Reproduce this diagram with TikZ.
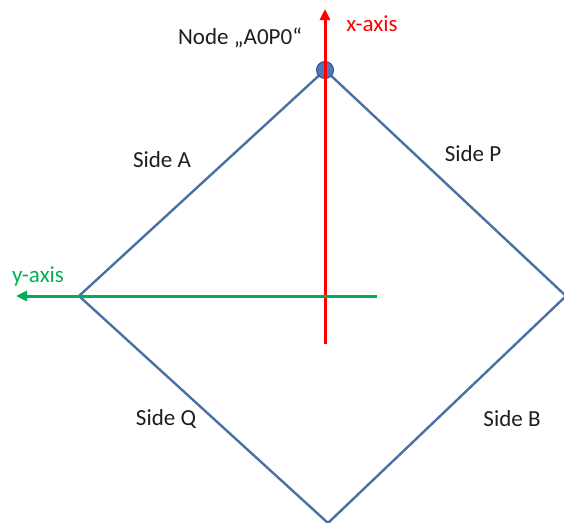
\documentclass[tikz,border=0pt]{standalone}
\usepackage{fontspec}
\setmainfont{Carlito}
\usetikzlibrary{arrows.meta}
\definecolor{sideblue}{RGB}{74,112,166}
\definecolor{nodefill}{RGB}{79,121,184}
\definecolor{nodeline}{RGB}{52,84,130}
\definecolor{axisred}{RGB}{255,0,0}
\definecolor{axisgreen}{RGB}{0,176,80}
\definecolor{labelgray}{RGB}{30,30,30}
\begin{document}
\begin{tikzpicture}[x=1pt,y=-1pt,
  side/.style={draw=sideblue,line width=2.4pt},
  axisx/.style={draw=axisred,line width=3pt,-{Triangle[length=11pt,width=10pt]}},
  axisy/.style={draw=axisgreen,line width=3pt,-{Triangle[length=11pt,width=10pt]}},
  lbl/.style={font=\fontsize{23}{27}\selectfont,text=labelgray,inner sep=0pt},
  vertex/.style={circle,fill=nodefill,draw=nodeline,line width=1pt,minimum size=17pt,inner sep=0pt}]
  \useasboundingbox (0,0) rectangle (564,522);
  % corners of the square
  \coordinate (top) at (325,70);
  \coordinate (left) at (79,296);
  \coordinate (right) at (566,296);
  \coordinate (bottom) at (328,523);
  \draw[side,line join=miter] (top) -- (right) -- (bottom) -- (left) -- cycle;
  % node A0P0 at the top corner
  \node[vertex] (a0p0) at (top) {};
  % axes
  \coordinate (ystart) at (377,296);
  \coordinate (yend) at (16,296);
  \coordinate (xstart) at (325,344);
  \coordinate (xend) at (325,9);
  \draw[axisx] (xstart) -- (xend);
  \draw[axisy] (ystart) -- (yend);
  % labels
  \node[lbl] (nodelabel) at (240,38) {Node „A0P0“};
  \node[lbl,text=axisred] (xlabel) at (372,24) {x-axis};
  \node[lbl,text=axisgreen] (ylabel) at (38,276) {y-axis};
  \node[lbl] (sa) at (162,160) {Side A};
  \node[lbl] (sp) at (473,154) {Side P};
  \node[lbl] (sq) at (166,419) {Side Q};
  \node[lbl] (sb) at (512,419) {Side B};
\end{tikzpicture}
\end{document}
